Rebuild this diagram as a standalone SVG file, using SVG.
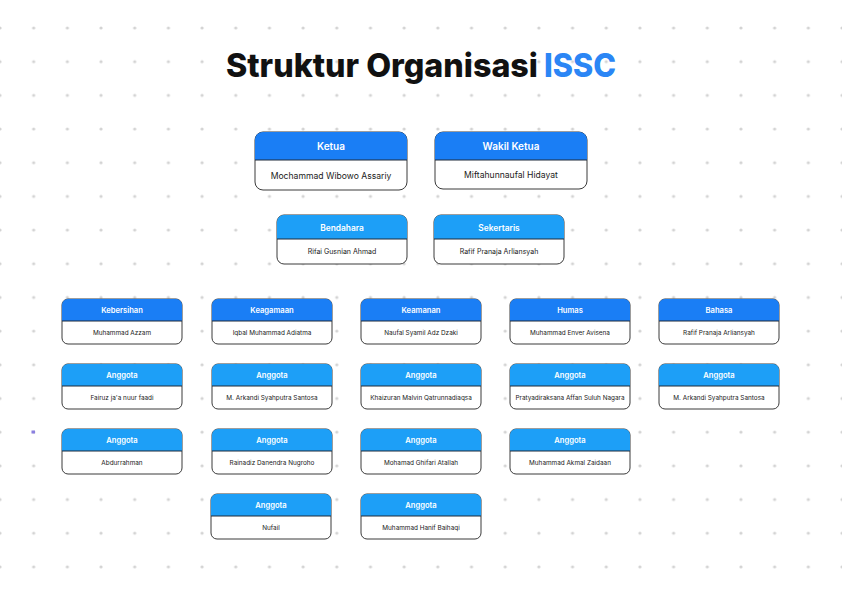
<svg xmlns="http://www.w3.org/2000/svg" width="842" height="595" viewBox="0 0 842 595">
<style>
.bg{fill:#ffffff}
.box{fill:#ffffff;stroke:#3a3a3a;stroke-width:1}
.hd{fill:#1a7ef5}
.hl{fill:#1d9ff7}
.div{stroke:#1f2a3a;stroke-width:1}
.ht{font-family:Inter,"Noto Sans",sans-serif;font-weight:600;fill:#ffffff;text-anchor:middle;dominant-baseline:central}
.bt{font-family:Inter,"Noto Sans",sans-serif;font-weight:400;fill:#1a1a1a;text-anchor:middle;dominant-baseline:central}
.big .ht{font-size:10px}
.big .bt{font-size:8.6px}
.mid .ht{font-size:8.4px}
.mid .bt{font-size:7px}
.sm .ht{font-size:7.6px}
.sm .bt{font-size:6.4px}
.title{font-family:Inter,"Noto Sans",sans-serif;font-weight:800;font-size:33px}
</style>
<defs>
<pattern id="dots" patternUnits="userSpaceOnUse" x="-16.84" y="11.16" width="33.68" height="33.68">
<circle cx="16.84" cy="16.84" r="1.6" fill="#d3d3d3"/>
</pattern>
<path id="hBig" d="M0,28 V8 A8,8 0 0 1 8,0 H144 A8,8 0 0 1 152,8 V28 Z"/>
<path id="hMid" d="M0,24 V7 A7,7 0 0 1 7,0 H123 A7,7 0 0 1 130,7 V24 Z"/>
<path id="hSm" d="M0,22 V6 A6,6 0 0 1 6,0 H114 A6,6 0 0 1 120,6 V22 Z"/>
</defs>
<rect class="bg" x="0" y="0" width="842" height="595"/>
<rect x="0" y="0" width="842" height="595" fill="url(#dots)"/>
<rect x="31.5" y="430.5" width="3.5" height="3" fill="#8a7fe0"/>

<g id="title">
<text class="title" x="226" y="77" fill="#111111" textLength="312" lengthAdjust="spacingAndGlyphs">Struktur Organisasi</text>
<text class="title" x="544" y="77" fill="#2b86f5" textLength="72" lengthAdjust="spacingAndGlyphs">ISSC</text>
</g>

<g id="connectors"></g>

<g id="ketua" class="big" transform="translate(255,132)">
<rect class="box" x="0" y="0" width="152" height="58" rx="8"/>
<use href="#hBig" class="hd"/>
<line class="div" x1="0" y1="28" x2="152" y2="28"/>
<text class="ht" x="76" y="14">Ketua</text>
<text class="bt" x="76" y="44">Mochammad Wibowo Assariy</text>
</g>
<g id="wakil" class="big" transform="translate(435,132)">
<rect class="box" x="0" y="0" width="152" height="57" rx="8"/>
<use href="#hBig" class="hd"/>
<line class="div" x1="0" y1="28" x2="152" y2="28"/>
<text class="ht" x="76" y="14">Wakil Ketua</text>
<text class="bt" x="76" y="43">Miftahunnaufal Hidayat</text>
</g>

<g id="bendahara" class="mid" transform="translate(277,215)">
<rect class="box" x="0" y="0" width="130" height="49" rx="7"/>
<use href="#hMid" class="hl"/>
<line class="div" x1="0" y1="24" x2="130" y2="24"/>
<text class="ht" x="65" y="12.5">Bendahara</text>
<text class="bt" x="65" y="36.5">Rifai Gusnian Ahmad</text>
</g>
<g id="sekertaris" class="mid" transform="translate(434,215)">
<rect class="box" x="0" y="0" width="130" height="49" rx="7"/>
<use href="#hMid" class="hl"/>
<line class="div" x1="0" y1="24" x2="130" y2="24"/>
<text class="ht" x="65" y="12.5">Sekertaris</text>
<text class="bt" x="65" y="36.5">Rafif Pranaja Arliansyah</text>
</g>

<g id="kebersihan" class="sm" transform="translate(62,299)">
<rect class="box" x="0" y="0" width="120" height="45" rx="6"/>
<use href="#hSm" class="hd"/>
<line class="div" x1="0" y1="22" x2="120" y2="22"/>
<text class="ht" x="60" y="11">Kebersihan</text>
<text class="bt" x="60" y="33.5">Muhammad Azzam</text>
</g>
<g id="keagamaan" class="sm" transform="translate(212,299)">
<rect class="box" x="0" y="0" width="120" height="45" rx="6"/>
<use href="#hSm" class="hd"/>
<line class="div" x1="0" y1="22" x2="120" y2="22"/>
<text class="ht" x="60" y="11">Keagamaan</text>
<text class="bt" x="60" y="33.5">Iqbal Muhammad Adiatma</text>
</g>
<g id="keamanan" class="sm" transform="translate(361,299)">
<rect class="box" x="0" y="0" width="120" height="45" rx="6"/>
<use href="#hSm" class="hd"/>
<line class="div" x1="0" y1="22" x2="120" y2="22"/>
<text class="ht" x="60" y="11">Keamanan</text>
<text class="bt" x="60" y="33.5">Naufal Syamil Adz Dzaki</text>
</g>
<g id="humas" class="sm" transform="translate(510,299)">
<rect class="box" x="0" y="0" width="120" height="45" rx="6"/>
<use href="#hSm" class="hd"/>
<line class="div" x1="0" y1="22" x2="120" y2="22"/>
<text class="ht" x="60" y="11">Humas</text>
<text class="bt" x="60" y="33.5">Muhammad Enver Avisena</text>
</g>
<g id="bahasa" class="sm" transform="translate(659,299)">
<rect class="box" x="0" y="0" width="120" height="45" rx="6"/>
<use href="#hSm" class="hd"/>
<line class="div" x1="0" y1="22" x2="120" y2="22"/>
<text class="ht" x="60" y="11">Bahasa</text>
<text class="bt" x="60" y="33.5">Rafif Pranaja Arliansyah</text>
</g>

<g id="anggota-1-1" class="sm" transform="translate(62,364)">
<rect class="box" x="0" y="0" width="120" height="45" rx="6"/>
<use href="#hSm" class="hl"/>
<line class="div" x1="0" y1="22" x2="120" y2="22"/>
<text class="ht" x="60" y="11">Anggota</text>
<text class="bt" x="60" y="33.5">Fairuz ja'a nuur faadi</text>
</g>
<g id="anggota-2-1" class="sm" transform="translate(212,364)">
<rect class="box" x="0" y="0" width="120" height="45" rx="6"/>
<use href="#hSm" class="hl"/>
<line class="div" x1="0" y1="22" x2="120" y2="22"/>
<text class="ht" x="60" y="11">Anggota</text>
<text class="bt" x="60" y="33.5">M. Arkandi Syahputra Santosa</text>
</g>
<g id="anggota-3-1" class="sm" transform="translate(361,364)">
<rect class="box" x="0" y="0" width="120" height="45" rx="6"/>
<use href="#hSm" class="hl"/>
<line class="div" x1="0" y1="22" x2="120" y2="22"/>
<text class="ht" x="60" y="11">Anggota</text>
<text class="bt" x="60" y="33.5">Khaizuran Malvin Qatrunnadiaqsa</text>
</g>
<g id="anggota-4-1" class="sm" transform="translate(510,364)">
<rect class="box" x="0" y="0" width="120" height="45" rx="6"/>
<use href="#hSm" class="hl"/>
<line class="div" x1="0" y1="22" x2="120" y2="22"/>
<text class="ht" x="60" y="11">Anggota</text>
<text class="bt" x="60" y="33.5">Pratyadiraksana Affan Suluh Nagara</text>
</g>
<g id="anggota-5-1" class="sm" transform="translate(659,364)">
<rect class="box" x="0" y="0" width="120" height="45" rx="6"/>
<use href="#hSm" class="hl"/>
<line class="div" x1="0" y1="22" x2="120" y2="22"/>
<text class="ht" x="60" y="11">Anggota</text>
<text class="bt" x="60" y="33.5">M. Arkandi Syahputra Santosa</text>
</g>

<g id="anggota-1-2" class="sm" transform="translate(62,429)">
<rect class="box" x="0" y="0" width="120" height="45" rx="6"/>
<use href="#hSm" class="hl"/>
<line class="div" x1="0" y1="22" x2="120" y2="22"/>
<text class="ht" x="60" y="11">Anggota</text>
<text class="bt" x="60" y="33.5">Abdurrahman</text>
</g>
<g id="anggota-2-2" class="sm" transform="translate(212,429)">
<rect class="box" x="0" y="0" width="120" height="45" rx="6"/>
<use href="#hSm" class="hl"/>
<line class="div" x1="0" y1="22" x2="120" y2="22"/>
<text class="ht" x="60" y="11">Anggota</text>
<text class="bt" x="60" y="33.5">Rainadiz Danendra Nugroho</text>
</g>
<g id="anggota-3-2" class="sm" transform="translate(361,429)">
<rect class="box" x="0" y="0" width="120" height="45" rx="6"/>
<use href="#hSm" class="hl"/>
<line class="div" x1="0" y1="22" x2="120" y2="22"/>
<text class="ht" x="60" y="11">Anggota</text>
<text class="bt" x="60" y="33.5">Mohamad Ghifari Atallah</text>
</g>
<g id="anggota-4-2" class="sm" transform="translate(510,429)">
<rect class="box" x="0" y="0" width="120" height="45" rx="6"/>
<use href="#hSm" class="hl"/>
<line class="div" x1="0" y1="22" x2="120" y2="22"/>
<text class="ht" x="60" y="11">Anggota</text>
<text class="bt" x="60" y="33.5">Muhammad Akmal Zaidaan</text>
</g>

<g id="anggota-2-3" class="sm" transform="translate(211,494)">
<rect class="box" x="0" y="0" width="120" height="45" rx="6"/>
<use href="#hSm" class="hl"/>
<line class="div" x1="0" y1="22" x2="120" y2="22"/>
<text class="ht" x="60" y="11">Anggota</text>
<text class="bt" x="60" y="33.5">Nufail</text>
</g>
<g id="anggota-3-3" class="sm" transform="translate(361,494)">
<rect class="box" x="0" y="0" width="120" height="45" rx="6"/>
<use href="#hSm" class="hl"/>
<line class="div" x1="0" y1="22" x2="120" y2="22"/>
<text class="ht" x="60" y="11">Anggota</text>
<text class="bt" x="60" y="33.5">Muhammad Hanif Baihaqi</text>
</g>
</svg>
